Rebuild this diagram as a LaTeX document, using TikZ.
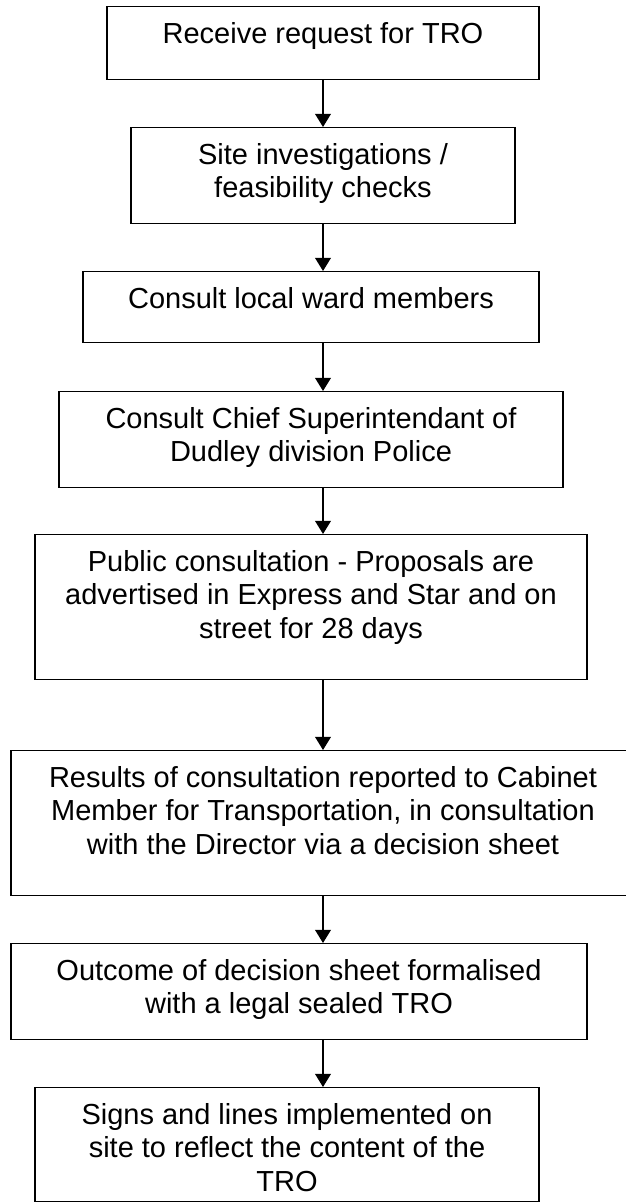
\documentclass[tikz,border=0pt]{standalone}
\usepackage{fontspec}
\setmainfont{Liberation Sans}
\usetikzlibrary{arrows.meta}
\newlength\unitpx
\setlength\unitpx{0.02cm}
\newcommand{\stagetext}[3]{\parbox[t][#2\unitpx][t]{#1\unitpx}{\centering\rule{0pt}{20.8pt}#3}}
\tikzset{stage/.style={draw,line width=0.8pt,inner sep=0pt,anchor=north,font=\fontsize{16.5pt}{19.1pt}\selectfont}}
\begin{document}
\begin{tikzpicture}[x=0.02cm,y=-0.02cm,>={Triangle[width=9pt,length=7.5pt]}]
\useasboundingbox (0,0) rectangle (625,1202);
\path
(323,0) coordinate (M);
\node[stage] (b1) at (323,6) {\stagetext{432}{73}{Receive request for TRO}};
\node[stage] (b2) at (323,127) {\stagetext{384}{96}{Site investigations /\\ feasibility checks}};
\node[stage] (b3) at (311,271) {\stagetext{456}{71}{Consult local ward members}};
\node[stage] (b4) at (311,391) {\stagetext{504}{96}{Consult Chief Superintendant of\\ Dudley division Police}};
\node[stage] (b5) at (311,534) {\stagetext{552}{145}{Public consultation - Proposals are\\ advertised in Express and Star and on\\ street for 28 days}};
\node[stage] (b6) at (323,750) {\stagetext{624}{145}{Results of consultation reported to Cabinet\\ Member for Transportation, in consultation\\ with the Director via a decision sheet}};
\node[stage] (b7) at (299,943) {\stagetext{576}{96}{Outcome of decision sheet formalised\\ with a legal sealed TRO}};
\node[stage] (b8) at (287,1087) {\stagetext{504}{114}{Signs and lines implemented on\\ site to reflect the content of the\\ TRO}};
\draw[->,line width=0.8pt](b1.south-|M)--(b2.north-|M);
\draw[->,line width=0.8pt](b2.south-|M)--(b3.north-|M);
\draw[->,line width=0.8pt](b3.south-|M)--(b4.north-|M);
\draw[->,line width=0.8pt](b4.south-|M)--(b5.north-|M);
\draw[->,line width=0.8pt](b5.south-|M)--(b6.north-|M);
\draw[->,line width=0.8pt](b6.south-|M)--(b7.north-|M);
\draw[->,line width=0.8pt](b7.south-|M)--(b8.north-|M);
\end{tikzpicture}
\end{document}
